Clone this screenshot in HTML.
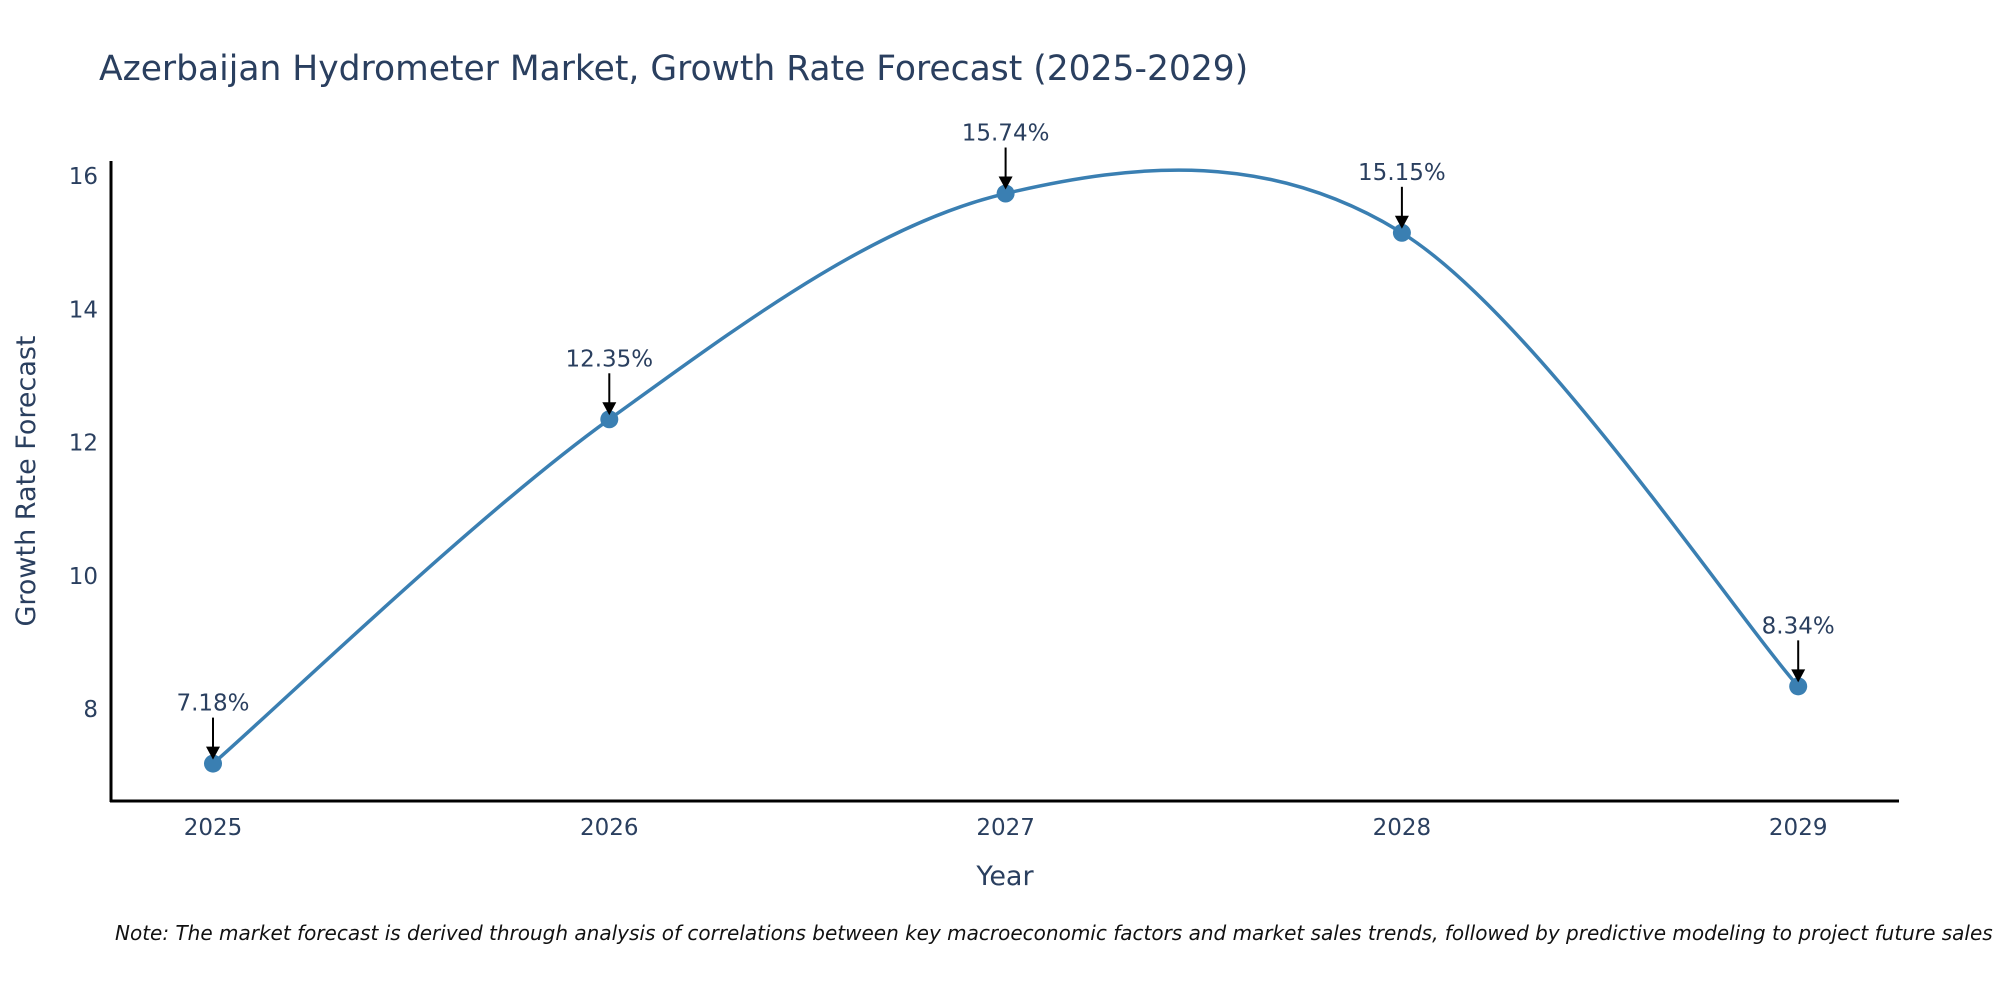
<!DOCTYPE html>
<html><head><meta charset="utf-8"><style>
body{margin:0;background:#fff;}
svg{font-family:"DejaVu Sans","Liberation Sans",sans-serif;}
</style></head><body>
<svg id="chart" width="2000" height="1000" xmlns="http://www.w3.org/2000/svg">
<text x="99" y="80" font-size="34.5" fill="#2a3f5f">Azerbaijan Hydrometer Market, Growth Rate Forecast (2025-2029)</text>
<g id="yticks"></g><g id="xticks"></g>
<line x1="111" y1="161" x2="111" y2="802" stroke="#000" stroke-width="3"/>
<line x1="110" y1="801" x2="1899" y2="801" stroke="#000" stroke-width="3"/>
<path id="line" fill="none" stroke="#3a7fb2" stroke-width="3.5"/>
<g id="marks"></g>
<text x="1005" y="885" font-size="27" fill="#2a3f5f" text-anchor="middle">Year</text>
<text transform="translate(35,481) rotate(-90)" font-size="27" fill="#2a3f5f" text-anchor="middle">Growth Rate Forecast</text>
<text x="115" y="940" font-size="20" font-style="italic" fill="#111">Note: The market forecast is derived through analysis of correlations between key macroeconomic factors and market sales trends, followed by predictive modeling to project future sales</text>
</svg>
<script>
const years=["2025","2026","2027","2028","2029"];
const values=[7.18,12.35,15.74,15.15,8.34];
const labels=["7.18%","12.35%","15.74%","15.15%","8.34%"];
const yTicks=[8,10,12,14,16];
const NS="http://www.w3.org/2000/svg";
function xs(i){return 213+i*396.3;}
function ys(v){return 709-(v-8)*66.6;}
function mk(t,a,p){const e=document.createElementNS(NS,t);for(const k in a)e.setAttribute(k,a[k]);(p||document.getElementById('chart')).appendChild(e);return e;}
const yg=document.getElementById('yticks'),xg=document.getElementById('xticks'),mg=document.getElementById('marks');
yTicks.forEach(v=>{const t=mk('text',{x:98,y:ys(v)+8,'font-size':23,fill:'#2a3f5f','text-anchor':'end'},yg);t.textContent=v;

});
years.forEach((y,i)=>{const t=mk('text',{x:xs(i),y:835,'font-size':23,fill:'#2a3f5f','text-anchor':'middle'},xg);t.textContent=y;

});
const P=values.map((v,i)=>[xs(i),ys(v)]);
let d='M'+P[0][0]+','+P[0][1];const k=0.5;
for(let i=0;i<P.length-1;i++){const p0=P[Math.max(i-1,0)],p1=P[i],p2=P[i+1],p3=P[Math.min(i+2,P.length-1)];
const c1=[p1[0]+(p2[0]-p0[0])*k/3,p1[1]+(p2[1]-p0[1])*k/3];
const c2=[p2[0]-(p3[0]-p1[0])*k/3,p2[1]-(p3[1]-p1[1])*k/3];
d+=` C${c1[0]},${c1[1]} ${c2[0]},${c2[1]} ${p2[0]},${p2[1]}`;}
document.getElementById('line').setAttribute('d',d);
P.forEach((p,i)=>{const c=mk('circle',{cx:p[0],cy:p[1],r:9,fill:'#3a7fb2'},mg);


const l=mk('line',{x1:p[0],y1:p[1]-46,x2:p[0],y2:p[1]-14,stroke:'#000','stroke-width':2},mg);


const a=mk('path',{d:`M${p[0]-7},${p[1]-17} L${p[0]+7},${p[1]-17} L${p[0]},${p[1]-4} Z`,fill:'#000'},mg);


const t=mk('text',{x:p[0],y:p[1]-53,'font-size':23,fill:'#2a3f5f','text-anchor':'middle'},mg);t.textContent=labels[i];

});
</script>
</body></html>
